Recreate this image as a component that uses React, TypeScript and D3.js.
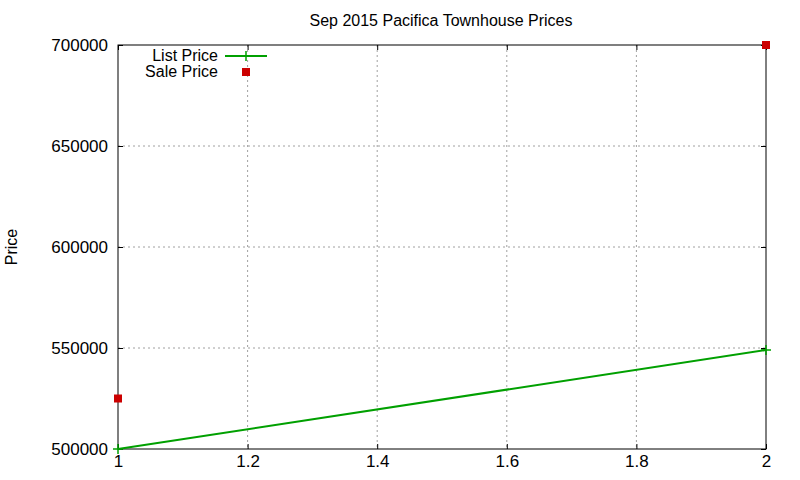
import React, { useEffect, useRef } from "react";
import * as d3 from "d3";

const title = "Sep 2015 Pacifica Townhouse Prices";
const yLabel = "Price";
const xTicks = [1, 1.2, 1.4, 1.6, 1.8, 2];
const yTicks = [500000, 550000, 600000, 650000, 700000];
const listX = [1, 2];
const listPrice = [500000, 549000];
const saleX = [1, 2];
const salePrice = [525000, 700000];

const W = 800;
const H = 480;
const margin = { top: 45, right: 34, bottom: 31, left: 118 };
const font = "Liberation Sans, Arial, sans-serif";
const fontSize = 16;
const tickFontSize = 17;
const green = "#00a000";
const red = "#cc0000";

export default function App() {
  const ref = useRef<SVGSVGElement | null>(null);

  useEffect(() => {
    const svg = d3.select(ref.current);
    svg.selectAll("*").remove();
    const iw = W - margin.left - margin.right;
    const ih = H - margin.top - margin.bottom;

    const x = d3.scaleLinear().domain([1, 2]).range([0, iw]);
    const y = d3.scaleLinear().domain([500000, 700000]).range([ih, 0]);

    const g = svg.append("g").attr("transform", `translate(${margin.left},${margin.top})`);

    // grid
    g.append("g")
      .selectAll("line")
      .data(xTicks.slice(1, -1))
      .enter()
      .append("line")
      .attr("x1", (d) => x(d))
      .attr("x2", (d) => x(d))
      .attr("y1", 0)
      .attr("y2", ih)
      .style("stroke", "#a0a0a0")
      .style("stroke-dasharray", "2,3");
    g.append("g")
      .selectAll("line")
      .data(yTicks.slice(1, -1))
      .enter()
      .append("line")
      .attr("x1", 0)
      .attr("x2", iw)
      .attr("y1", (d) => y(d))
      .attr("y2", (d) => y(d))
      .style("stroke", "#a0a0a0")
      .style("stroke-dasharray", "2,3");

    // axes, ticks pointing inward
    const xAxis = g.append("g").attr("transform", `translate(0,${ih})`)
      .call(d3.axisBottom(x).tickValues(xTicks).tickSizeInner(-5).tickSizeOuter(0).tickPadding(6).tickFormat(d3.format("")));
    const xAxisTop = g.append("g")
      .call(d3.axisTop(x).tickValues(xTicks).tickSizeInner(-5).tickSizeOuter(0).tickFormat(() => ""));
    const yAxis = g.append("g")
      .call(d3.axisLeft(y).tickValues(yTicks).tickSizeInner(-5).tickSizeOuter(0).tickPadding(10).tickFormat(d3.format("d")));
    const yAxisRight = g.append("g").attr("transform", `translate(${iw},0)`)
      .call(d3.axisRight(y).tickValues(yTicks).tickSizeInner(-5).tickSizeOuter(0).tickFormat(() => ""));
    [xAxis, xAxisTop, yAxis, yAxisRight].forEach((a) => {
      a.select(".domain").remove();
      a.selectAll("line").style("stroke", "#000");
      a.selectAll("text").style("font-family", font).style("font-size", `${tickFontSize}px`).style("fill", "#000");
    });

    // border
    g.append("rect").attr("width", iw).attr("height", ih).style("fill", "none").style("stroke", "#000").style("stroke-width", 1);

    // list price line
    const pts = listX.map((d, i) => [x(d), y(listPrice[i])] as [number, number]);
    g.append("path").attr("d", d3.line()(pts)).style("fill", "none").style("stroke", green).style("stroke-width", 2);
    g.selectAll(".plus")
      .data(pts)
      .enter()
      .append("path")
      .attr("d", (d) => `M${d[0] - 5},${d[1]}h10M${d[0]},${d[1] - 5}v10`)
      .style("stroke", green)
      .style("stroke-width", 1.5);

    // sale price points
    g.selectAll(".sq")
      .data(saleX)
      .enter()
      .append("rect")
      .attr("x", (d) => x(d) - 4)
      .attr("y", (d, i) => y(salePrice[i]) - 4)
      .attr("width", 8)
      .attr("height", 8)
      .style("fill", red);

    // legend
    const lg = svg.append("g").attr("transform", "translate(218,56)");
    lg.append("text").attr("x", 0).attr("y", 5).attr("text-anchor", "end").text("List Price")
      .style("font-family", font).style("font-size", `${fontSize}px`);
    lg.append("line").attr("x1", 7).attr("x2", 49).style("stroke", green).style("stroke-width", 2);
    lg.append("path").attr("d", "M23,0h10M28,-5v10").style("stroke", green).style("stroke-width", 1.5);
    lg.append("text").attr("x", 0).attr("y", 21).attr("text-anchor", "end").text("Sale Price")
      .style("font-family", font).style("font-size", `${fontSize}px`);
    lg.append("rect").attr("x", 24).attr("y", 12).attr("width", 8).attr("height", 8).style("fill", red);

    // title & y label
    svg.append("text").attr("x", 441).attr("y", 26).attr("text-anchor", "middle").text(title)
      .style("font-family", font).style("font-size", `${fontSize}px`);
    svg.append("text").attr("transform", "translate(17,247) rotate(-90)").attr("text-anchor", "middle").text(yLabel)
      .style("font-family", font).style("font-size", `${fontSize}px`);
  }, []);

  return <svg ref={ref} width={W} height={H} style={{ position: "absolute", left: 0, top: 0, background: "#fff" }} />;
}
